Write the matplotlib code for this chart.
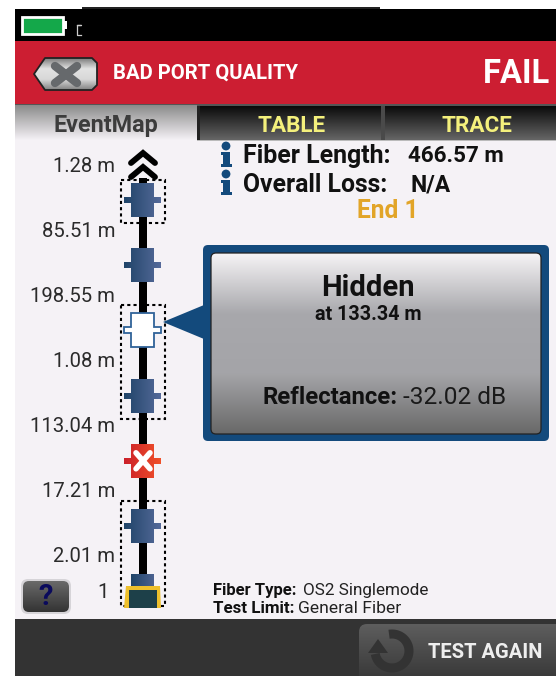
import matplotlib
matplotlib.use('Agg')
import matplotlib.pyplot as plt
import numpy as np
from matplotlib.colors import LinearSegmentedColormap
from matplotlib.patches import FancyBboxPatch, Polygon, Rectangle

# Data
span_labels = ['1.28 m', '85.51 m', '198.55 m', '1.08 m', '113.04 m', '17.21 m', '2.01 m']
event_kinds = ['connector', 'connector', 'hidden', 'connector', 'fail', 'connector']
event_groups = [[0], [2, 3], [5]]
tab_names = ['EventMap', 'TABLE', 'TRACE']
fiber_length = '466.57 m'
overall_loss = 'N/A'
event_name = 'Hidden'
event_at = 'at 133.34 m'
reflectance = '-32.02 dB'
fiber_type = 'OS2 Singlemode'
test_limit = 'General Fiber'

plt.rcParams['font.family'] = ['Roboto', 'DejaVu Sans']

fig = plt.figure(figsize=(5.56, 6.76), dpi=100)
ax = fig.add_axes([0, 0, 1, 1])
ax.set_xlim(0, 556)
ax.set_ylim(676, 0)
ax.axis('off')


def grad(x0, x1, y0, y1, colors, horizontal=False, clip=None, z=2):
    cmap = LinearSegmentedColormap.from_list('g', colors)
    ramp = np.linspace(0, 1, 256).reshape(-1, 1)
    if horizontal:
        ramp = ramp.T
    im = ax.imshow(ramp, extent=[x0, x1, y1, y0], cmap=cmap, aspect='auto', zorder=z, vmin=0, vmax=1)
    if clip is not None:
        clip.set_transform(ax.transData)
        im.set_clip_path(clip)
    return im


def rect(x0, x1, y0, y1, color, z=1):
    ax.add_patch(Rectangle((x0, y0), x1 - x0, y1 - y0, fc=color, ec='none', zorder=z))


def rounded(x0, x1, y0, y1, r, **kw):
    return FancyBboxPatch((x0 + r, y0 + r), x1 - x0 - 2 * r, y1 - y0 - 2 * r,
                          boxstyle=f'round,pad={r},rounding_size={r}', **kw)


def cross_shape(cy):
    # connector outline: body with a stub each side
    return [(131, cy - 17), (154, cy - 17), (154, cy - 3), (161, cy - 3), (161, cy + 3), (154, cy + 3),
            (154, cy + 17), (131, cy + 17), (131, cy + 3), (124, cy + 3), (124, cy - 3), (131, cy - 3)]


def label(x, y, s, size, color='#111111', bold=True, ha='left'):
    ax.text(x, y, s, color=color, fontsize=size, fontweight='bold' if bold else 'normal',
            ha=ha, va='center', zorder=7)


# Screen areas
rect(15, 556, 9, 41, 'black')
rect(82, 380, 7, 9, '#222222')
rect(15, 556, 41, 104, '#cc1e32')
rect(15, 556, 104, 619, '#f5f2f6')
rect(15, 556, 619, 676, '#333333')

# Battery and status glyph
ax.add_patch(Rectangle((21.5, 16.5), 41, 17, fc='#14a84a', ec='white', lw=2, zorder=3))
rect(63, 67, 21, 29, 'white', 3)
ax.plot([77, 81, 77, 77, 81], [25, 25, 25, 35, 35], color='#cccccc', lw=0.9, zorder=3)

# Back button
back_pts = [(34, 74), (45, 58), (92, 58), (97, 63), (97, 85), (92, 90), (45, 90)]
grad(34, 97, 58, 90, ['#7a7a7a', '#e2e2e2', '#d8d8d8', '#808080'], clip=Polygon(back_pts))
ax.add_patch(Polygon(back_pts, fc='none', ec='#222222', lw=1.3, zorder=3, joinstyle='round'))
ax.plot([55, 77], [66, 83], color='#66696c', lw=6, solid_capstyle='round', zorder=4)
ax.plot([55, 77], [83, 66], color='#66696c', lw=6, solid_capstyle='round', zorder=4)

label(113, 73, 'BAD PORT QUALITY', 14.6, 'white')
label(550, 74, 'FAIL', 23.5, 'white', ha='right')

# Tabs
rect(15, 556, 104, 106, '#555555', 2)
grad(15, 197, 105, 140, ['#8a8a8a', '#f5f2f6'], z=2)
grad(200, 381, 106, 140, ['#0a0a0a', '#666666'], z=2)
grad(385, 556, 106, 140, ['#0a0a0a', '#666666'], z=2)
rect(197, 200, 106, 140, '#222222', 2)
rect(381, 385, 106, 140, '#4a4a4a', 2)
rect(197, 556, 139.5, 140.5, '#bbbbbb', 3)
label(106, 125.5, tab_names[0], 16.8, '#3c3c3c', ha='center')
label(292, 125.5, tab_names[1], 16.2, '#f4f07c', ha='center')
label(477, 125.5, tab_names[2], 16.2, '#f4f07c', ha='center')

# Fiber line
rect(139, 147, 178, 578, 'black', 2)

# Far end chevrons
for cy in [152, 166]:
    ax.plot([131, 143, 155], [cy + 11, cy + 1, cy + 11], color='black', lw=4.2, zorder=3,
            solid_joinstyle='miter', solid_capstyle='round')

# Events
pitch = 65.2
event_y = [200 + i * pitch for i in range(len(event_kinds))]

# Dotted group boxes
pad_top = [20, 25, 25]
group_bottoms = [event_y[g[-1]] + 23 for g in event_groups]
group_bottoms[-1] = 606
for g, top_pad, bottom in zip(event_groups, pad_top, group_bottoms):
    top = event_y[g[0]] - top_pad
    ax.add_patch(Rectangle((121, top), 44, bottom - top, fc='none', ec='black', lw=1.5,
                           ls=(0, (1.5, 1.5)), zorder=3))

for kind, cy in zip(event_kinds, event_y):
    pts = cross_shape(cy)
    if kind == 'connector':
        grad(124, 161, cy - 17, cy + 17, ['#1f4468', '#566a9a'], horizontal=True, clip=Polygon(pts), z=4)
    elif kind == 'fail':
        grad(124, 161, cy - 17, cy + 17, ['#cb2029', '#f0512a'], horizontal=True, clip=Polygon(pts), z=4)
        ax.plot([136, 150], [cy - 8, cy + 8], color='white', lw=4, solid_capstyle='round', zorder=5)
        ax.plot([136, 150], [cy + 8, cy - 8], color='white', lw=4, solid_capstyle='round', zorder=5)
    else:
        ax.add_patch(Polygon(pts, fc='white', ec='#2f6298', lw=1.3, zorder=4))

# Tester at the near end
grad(131, 154, 574, 590, ['#1f4468', '#4b6290'], horizontal=True, z=4)
ax.add_patch(Polygon([(126, 586), (160, 586), (161, 608), (124, 608)], fc='#eec02c', ec='none', zorder=5))
ax.add_patch(Polygon([(129, 590), (157, 590), (157, 608), (129, 608)], fc='#1d4049', ec='none', zorder=6))

# Span labels
for i, lab in enumerate(span_labels):
    label(115, 166.5 + i * 65, lab, 14.6, '#2b2b2b', bold=False, ha='right')
label(109, 593, '1', 14.6, '#2b2b2b', bold=False, ha='right')

# Help button
helpbox = rounded(23, 69, 581, 612, 6, fc='none', ec='none')
ax.add_patch(rounded(21, 71, 579, 614, 7, fc='#d6d4d8', ec='none', zorder=2))
grad(23, 69, 581, 612, ['#6a6a6a', '#333333'], clip=helpbox, z=3)
label(45.5, 597, '?', 21, '#0a0a5c', ha='center')

# Fiber summary
for cy in [152, 180]:
    ax.add_patch(plt.Circle((226, cy - 6), 4.4, fc='#134a7c', ec='none', zorder=4))
    ax.add_patch(Polygon([(221, cy), (230, cy), (230, cy + 12), (232, cy + 12), (232, cy + 15), (221, cy + 15),
                          (221, cy + 12), (223, cy + 12), (223, cy + 3), (221, cy + 3)],
                         fc='#134a7c', ec='none', zorder=4))
label(243, 156.5, 'Fiber Length:', 17.9)
label(408, 156.5, fiber_length, 16.1)
label(243, 185, 'Overall Loss:', 17.8)
label(411, 185, overall_loss, 16.5)
label(388, 211, 'End 1', 17.7, '#e2a528', ha='center')

# Event popup
ax.add_patch(Polygon([(163, 322), (204, 305), (204, 339)], fc='#134a7c', ec='none', zorder=3))
ax.add_patch(rounded(203, 549, 245, 441, 5, fc='#134a7c', ec='none', zorder=3))
inner = rounded(211, 541, 253, 434, 5, fc='none', ec='none')
grad(211, 541, 253, 434, ['#f6f4f6', '#a8a8ac', '#a4a4a8', '#686868'], clip=inner, z=4)
ax.add_patch(rounded(211, 541, 253, 434, 5, fc='none', ec='#222222', lw=0.9, zorder=5))
label(368, 288, event_name, 21, ha='center')
label(368, 315, event_at, 14.2, ha='center')
label(263, 398, 'Reflectance:', 17.2)
label(403, 398, reflectance, 17.6, '#1a1a1a', bold=False)

# Fiber type footer
label(213, 590.5, 'Fiber Type:', 12)
label(303, 590.5, fiber_type, 12.3, '#222222', bold=False)
label(213, 608.5, 'Test Limit:', 12.2)
label(298, 608.5, test_limit, 12.6, '#222222', bold=False)

# Test again button
btn = rounded(359, 600, 624, 700, 8, fc='none', ec='none')
grad(359, 556, 624, 676, ['#5e5e5e', '#3a3a3a'], clip=btn, z=2)
theta = np.radians(np.linspace(100, -170, 60))
ax.plot(392 + 17 * np.cos(theta), 651 - 17 * np.sin(theta), color='#333333', lw=6.5, zorder=3,
        solid_capstyle='butt')
ax.add_patch(Polygon([(368, 653), (388, 653), (378, 639)], fc='#333333', ec='none', zorder=3))
label(428, 652, 'TEST AGAIN', 14.5, '#eeeeee')

ax.set_xlim(0, 556)
ax.set_ylim(676, 0)
fig.savefig('out.png', dpi=100, facecolor='white')
